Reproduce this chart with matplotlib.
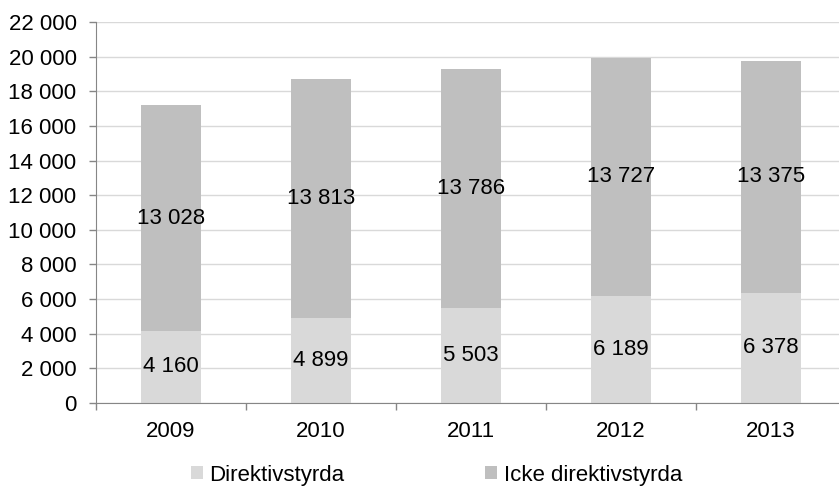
import matplotlib.pyplot as plt
import numpy as np

# data
years = ["2009", "2010", "2011", "2012", "2013"]
direktivstyrda = [4160, 4899, 5503, 6189, 6378]
icke_direktivstyrda = [13028, 13813, 13786, 13727, 13375]

plt.rcParams['font.family'] = ['Liberation Sans', 'DejaVu Sans']

def fmt(v):
    return "{:,}".format(int(v)).replace(",", " ")

fs = 16
fig = plt.figure(figsize=(8.39, 4.87), dpi=100)
ax = fig.add_axes([96/839, 84/487, 750/839, 381/487])

x = np.arange(len(years))
light = "#d9d9d9"
dark = "#bfbfbf"
b1 = ax.bar(x, direktivstyrda, width=0.4, color=light, label="Direktivstyrda", zorder=2)
b2 = ax.bar(x, icke_direktivstyrda, width=0.4, bottom=direktivstyrda, color=dark,
            label="Icke direktivstyrda", zorder=2)

for i in range(len(years)):
    ax.text(x[i], direktivstyrda[i] / 2, fmt(direktivstyrda[i]), ha="center", va="center",
            fontsize=fs, color="black", zorder=3)
    ax.text(x[i], direktivstyrda[i] + icke_direktivstyrda[i] / 2, fmt(icke_direktivstyrda[i]),
            ha="center", va="center", fontsize=fs, color="black", zorder=3)

ax.set_ylim(0, 22000)
ax.set_xlim(-0.5, 4.5)
yt = np.arange(0, 22001, 2000)
ax.set_yticks(yt)
ax.set_yticklabels([fmt(v) for v in yt], fontsize=fs)
ax.set_xticks(x)
ax.set_xticklabels(years, fontsize=fs)
ax.set_xticks(np.arange(-0.5, 4.6, 1), minor=True)
ax.tick_params(axis="x", which="major", length=0, pad=13)
ax.tick_params(axis="x", which="minor", length=5, color="#868686", width=1)
ax.tick_params(axis="y", length=5, color="#868686", width=1, pad=9)

ax.grid(axis="y", color="#d9d9d9", linewidth=1, zorder=0)
for s in ["top", "right"]:
    ax.spines[s].set_visible(False)
ax.spines["left"].set_color("#868686")
ax.spines["bottom"].set_color("#868686")

fig.legend(handles=[b1, b2], loc="center", bbox_to_anchor=(0.52, 12/487), ncol=2,
           frameon=False, fontsize=fs, handlelength=0.55, handleheight=0.55,
           handletextpad=0.3, columnspacing=6.3)

fig.savefig("out.png", dpi=100)
